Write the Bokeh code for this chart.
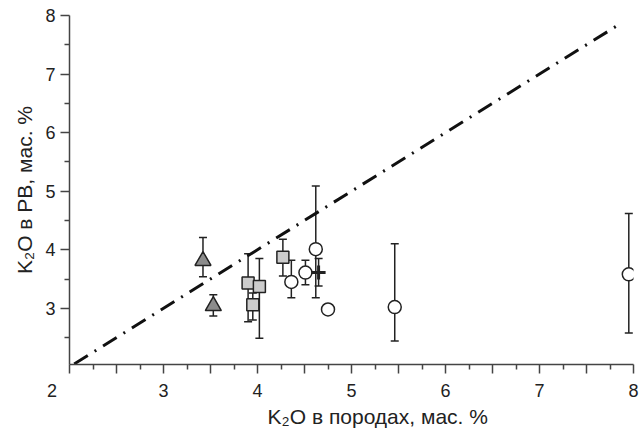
from bokeh.plotting import figure
from bokeh.models import Range1d, FixedTicker, ColumnDataSource, Whisker, TeeHead
from bokeh.embed import file_html
from bokeh.resources import INLINE

# ---- data ----
tri_x = [3.42, 3.53]
tri_y = [3.81, 3.04]
tri_lo = [3.54, 2.87]
tri_hi = [4.21, 3.23]

sq_x = [3.90, 3.95, 4.02, 4.27]
sq_y = [3.43, 3.06, 3.37, 3.87]
sq_lo = [2.77, 2.80, 2.49, 3.55]
sq_hi = [3.93, 3.26, 3.85, 4.18]

circ_x = [4.36, 4.51, 4.62, 4.75, 5.46, 7.95]
circ_y = [3.45, 3.61, 4.01, 2.98, 3.02, 3.58]
circ_lo = [3.18, 3.40, 3.18, None, 2.44, 2.58]
circ_hi = [3.82, 3.82, 5.09, None, 4.10, 4.62]

cross_x = [4.65]
cross_y = [3.61]
cross_lo = [3.38]
cross_hi = [3.85]

line_x = [2.05, 7.86]
line_y = [2.05, 7.86]

x_major = [2, 2.5, 3, 3.5, 4, 4.5, 5, 5.5, 6, 6.5, 7, 7.5, 8]
x_minor = [2.25, 2.75, 3.25, 3.75, 4.25, 4.75, 5.25, 5.75, 6.25, 6.75, 7.25, 7.75]
y_major = [3, 4, 5, 6, 7, 8]
y_minor = [2.5, 3.5, 4.5, 5.5, 6.5, 7.5]

FONT = "Liberation Sans"
NB = "\u00a0"

p = figure(width=640, height=431, output_backend="svg", toolbar_location=None,
           x_range=Range1d(2, 8), y_range=Range1d(2.04, 8),
           min_border_left=69, min_border_right=7, min_border_top=15, min_border_bottom=67)
p.outline_line_color = None
p.xgrid.visible = False
p.ygrid.visible = False
p.background_fill_color = "white"

for ax in (p.xaxis[0], p.yaxis[0]):
    ax.axis_line_color = "#444444"
    ax.axis_line_width = 1.5
    ax.major_tick_line_color = "#444444"
    ax.minor_tick_line_color = "#444444"
    ax.major_tick_line_width = 1.5
    ax.minor_tick_line_width = 1.5
    ax.major_tick_in = 0
    ax.minor_tick_in = 0
    ax.major_label_text_font = FONT
    ax.major_label_text_font_size = "18px"
    ax.major_label_text_color = "#222222"
    ax.axis_label_text_font = FONT
    ax.axis_label_text_font_style = "normal"
    ax.axis_label_text_color = "#222222"
    ax.axis_label_text_font_size = "21px"

def xlab(t):
    if t != int(t):
        return ""
    if t == 2:
        return "2" + NB * 7
    return str(int(t))

p.xaxis.ticker = FixedTicker(ticks=x_major, minor_ticks=x_minor)
p.xaxis.major_tick_out = 9
p.xaxis.minor_tick_out = 5
p.xaxis.major_label_overrides = {t: xlab(t) for t in x_major}
p.xaxis.major_label_standoff = 7
p.xaxis.axis_label = NB * 9 + "K₂O в породах, мас. %"
p.xaxis.axis_label_standoff = 1

p.yaxis.ticker = FixedTicker(ticks=y_major, minor_ticks=y_minor)
p.yaxis.major_tick_out = 9
p.yaxis.minor_tick_out = 5
p.yaxis.major_label_standoff = 5
p.yaxis.axis_label = "K₂O в РВ, мас. %"
p.yaxis.axis_label_standoff = 6

# 1:1 line
p.line(line_x, line_y, line_color="#111111", line_width=3, line_dash="16 8 2 8")

def add_err(xs, lo, hi):
    bx, bl, bh = [], [], []
    for a, l, h in zip(xs, lo, hi):
        if l is not None and h is not None:
            bx.append(a); bl.append(l); bh.append(h)
    src = ColumnDataSource(dict(x=bx, lo=bl, hi=bh))
    w = Whisker(source=src, base="x", lower="lo", upper="hi", dimension="height",
                line_color="#222222", line_width=1.5,
                upper_head=TeeHead(size=8, line_color="#222222", line_width=1.5),
                lower_head=TeeHead(size=8, line_color="#222222", line_width=1.5))
    p.add_layout(w)

add_err(tri_x, tri_lo, tri_hi)
add_err(sq_x, sq_lo, sq_hi)
add_err(circ_x, circ_lo, circ_hi)
add_err(cross_x, cross_lo, cross_hi)

p.scatter(tri_x, tri_y, marker="triangle", size=16, fill_color="#8c8c8c",
          line_color="#222222", line_width=1.5)
p.scatter(sq_x, sq_y, marker="square", size=12, fill_color="#cccccc",
          line_color="#222222", line_width=1.5)
p.scatter(circ_x, circ_y, marker="circle", size=13, fill_color="white",
          line_color="#222222", line_width=1.5)
p.scatter(cross_x, cross_y, marker="cross", size=14, line_color="#222222", line_width=3)

open("out.html", "w").write(file_html(p, INLINE))
